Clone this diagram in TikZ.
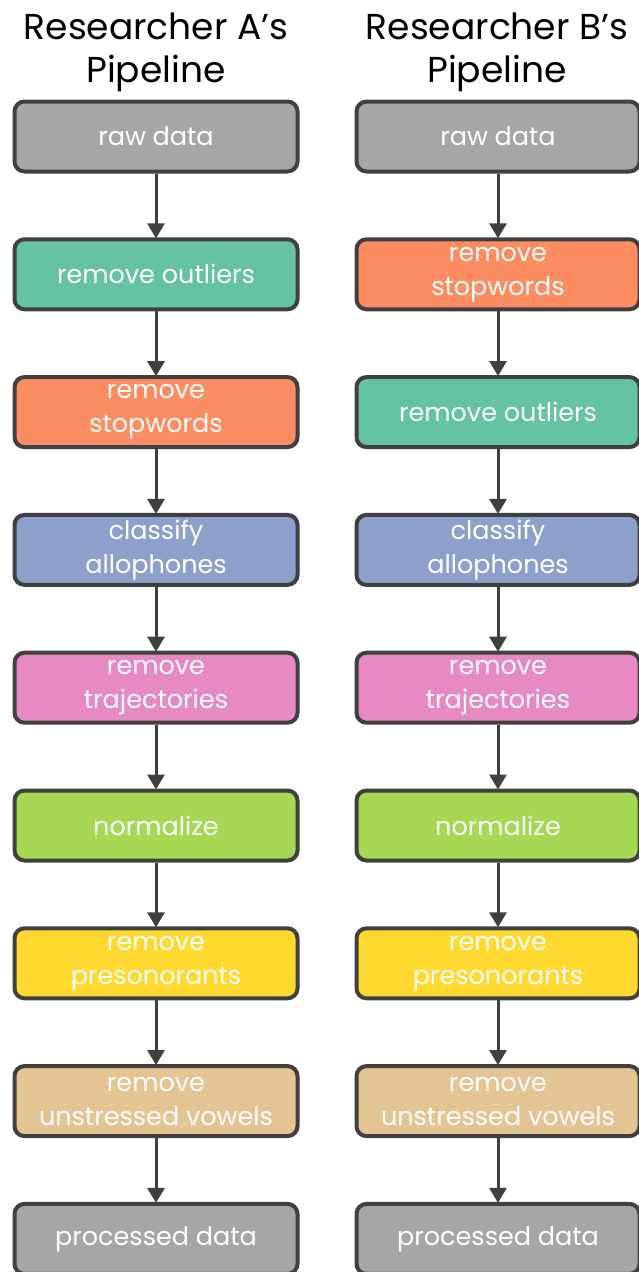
\documentclass[tikz,border=0pt]{standalone}
\usepackage{fontspec}
\setmainfont{Poppins}
\usepackage{tikz}
\usetikzlibrary{arrows.meta}

\definecolor{rawgray}{HTML}{A6A6A6}
\definecolor{outgreen}{HTML}{66C2A5}
\definecolor{stoporange}{HTML}{FC8D62}
\definecolor{allblue}{HTML}{8DA0CB}
\definecolor{trajpink}{HTML}{E78AC3}
\definecolor{normlime}{HTML}{A6D854}
\definecolor{presyellow}{HTML}{FFD92F}
\definecolor{vowtan}{HTML}{E5C494}
\definecolor{edgegray}{HTML}{404040}

\begin{document}
\begin{tikzpicture}[x=1pt, y=-1pt,
    box/.style={draw=edgegray, line width=4pt, rounded corners=10pt,
      minimum width=283pt, minimum height=70pt, align=center, text=white,
      font=\fontsize{25.5}{34}\selectfont, inner sep=0pt},
    title/.style={align=center, font=\fontsize{36}{43}\selectfont},
    arr/.style={draw=edgegray, line width=3pt,
      -{Triangle[width=17pt,length=15pt]}, shorten >=-1pt}]
  \useasboundingbox (0,0) rectangle (638,1272);
  \node[title] (titleA) at (156,52) {Researcher A’s\\Pipeline};
  \node[title] (titleB) at (497,52) {Researcher B’s\\Pipeline};
  % left pipeline
  \foreach \col/\txt [count=\i] in {rawgray/{raw data}, outgreen/{remove outliers},
      stoporange/{remove\\stopwords}, allblue/{classify\\allophones},
      trajpink/{remove\\trajectories}, normlime/{normalize},
      presyellow/{remove\\presonorants}, vowtan/{remove\\unstressed vowels},
      rawgray/{processed data}}
    \node[box, fill=\col] (a\i) at (156,{136.5+(\i-1)*137.8}) {\txt};
  % right pipeline
  \foreach \col/\txt [count=\i] in {rawgray/{raw data}, stoporange/{remove\\stopwords},
      outgreen/{remove outliers}, allblue/{classify\\allophones},
      trajpink/{remove\\trajectories}, normlime/{normalize},
      presyellow/{remove\\presonorants}, vowtan/{remove\\unstressed vowels},
      rawgray/{processed data}}
    \node[box, fill=\col] (b\i) at (498,{136.5+(\i-1)*137.8}) {\txt};
  \foreach \i [evaluate=\i as \j using int(\i+1)] in {1,...,8} {
    \draw[arr] (a\i) -- (a\j);
    \draw[arr] (b\i) -- (b\j);
  }
\end{tikzpicture}
\end{document}
